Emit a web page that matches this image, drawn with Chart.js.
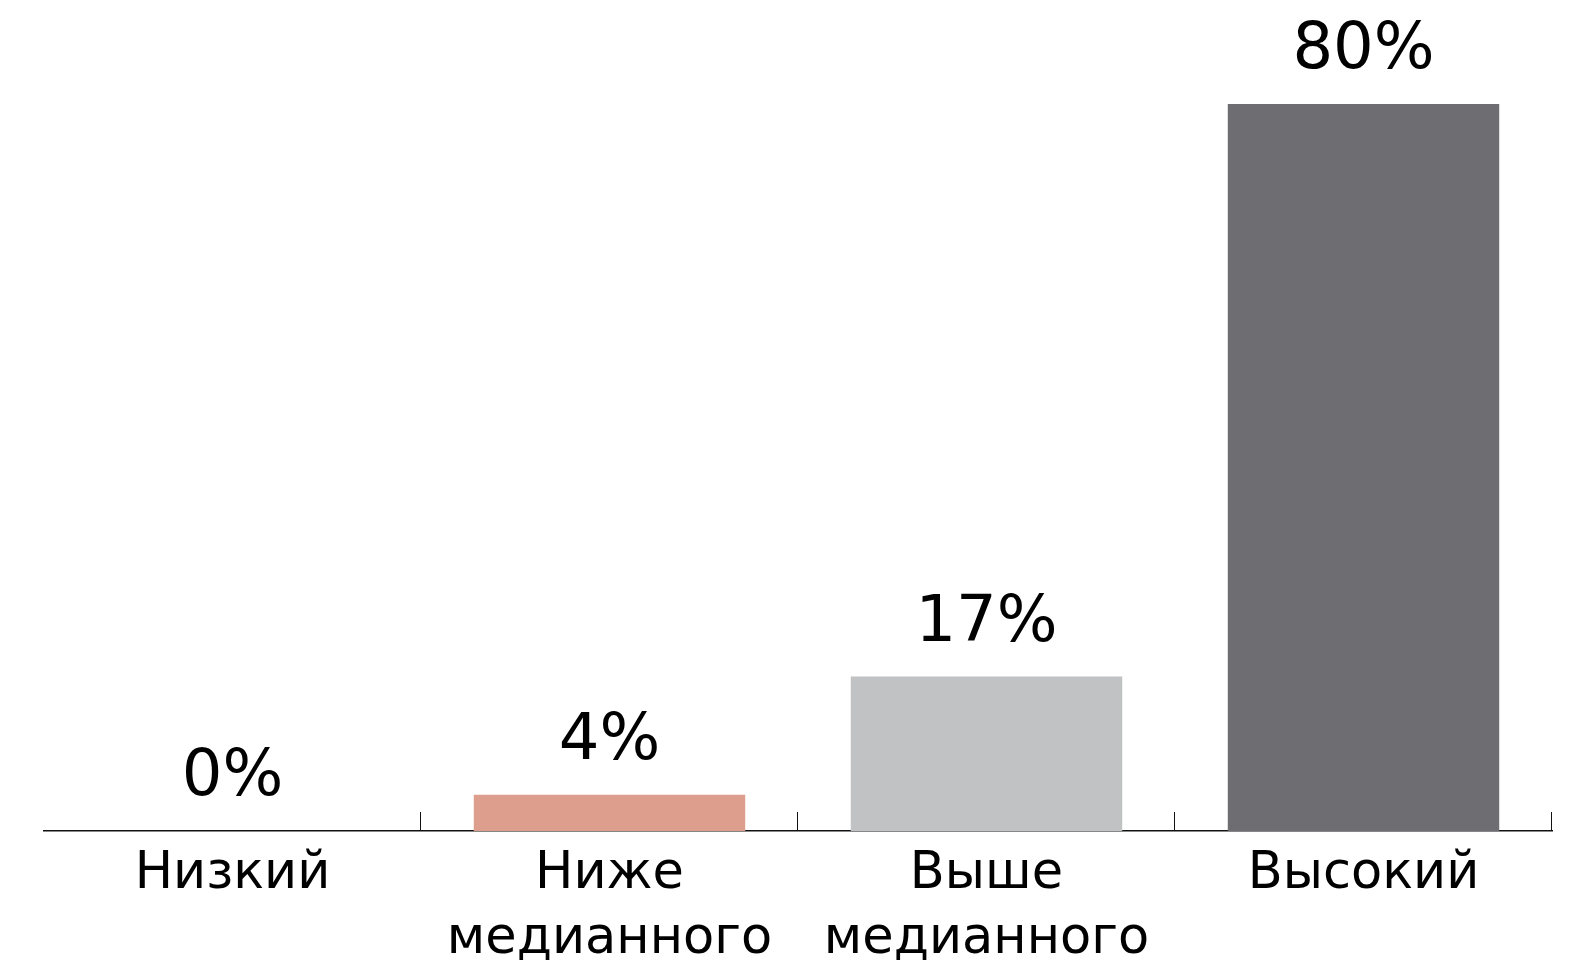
<!DOCTYPE html>
<html>
<head>
<meta charset="utf-8">
<script src="https://cdn.jsdelivr.net/npm/chart.js@4/dist/chart.umd.min.js"></script>
<style>
  html, body { margin: 0; padding: 0; background: #fff; }
  #wrap { width: 1573px; height: 960px; }
</style>
</head>
<body>
<div id="wrap"><canvas id="chart"></canvas></div>
<script>
// Chart data
const categories = [["Низкий"], ["Ниже", "медианного"], ["Выше", "медианного"], ["Высокий"]];
const shares = [0, 4, 17, 80];
const barColors = ["#dd9e8e", "#dd9e8e", "#c1c2c4", "#6e6e72"];

const FONT = "'DejaVu Sans', sans-serif";

// value labels above the bars
const valueLabels = {
    id: "valueLabels",
    afterDatasetsDraw(chart) {
        const ctx = chart.ctx;
        const meta = chart.getDatasetMeta(0);
        ctx.save();
        ctx.font = "64px " + FONT;
        ctx.fillStyle = "#000";
        ctx.textAlign = "center";
        ctx.textBaseline = "alphabetic";
        meta.data.forEach((bar, i) => {
            ctx.fillText(shares[i] + "%", bar.x, bar.y - 36);
        });
        ctx.restore();
    }
};

// small upward ticks at the category boundaries
const boundaryTicks = {
    id: "boundaryTicks",
    afterDraw(chart) {
        const ctx = chart.ctx;
        const x = chart.scales.x;
        const bottom = chart.chartArea.bottom;
        ctx.save();
        ctx.strokeStyle = "#111";
        ctx.lineWidth = 1;
        for (let i = 1; i <= categories.length; i++) {
            let px;
            if (i < categories.length) {
                px = (x.getPixelForValue(i - 1) + x.getPixelForValue(i)) / 2;
            } else {
                px = x.right;
            }
            px = Math.round(px) - 0.5;
            ctx.beginPath();
            ctx.moveTo(px, bottom);
            ctx.lineTo(px, bottom - 19);
            ctx.stroke();
        }
        ctx.restore();
    }
};

new Chart(document.getElementById("chart"), {
    type: "bar",
    data: {
        labels: categories,
        datasets: [{
            data: shares,
            backgroundColor: barColors,
            borderWidth: 0,
            categoryPercentage: 1,
            barPercentage: 0.72
        }]
    },
    options: {
        responsive: true,
        maintainAspectRatio: false,
        animation: false,
        layout: {
            padding: { top: 104, left: 44, right: 21, bottom: 0 }
        },
        plugins: {
            legend: { display: false },
            tooltip: { enabled: false }
        },
        scales: {
            x: {
                grid: { display: false },
                border: { display: true, color: "#111", width: 1.5 },
                ticks: {
                    color: "#000",
                    padding: 3,
                    maxRotation: 0,
                    autoSkip: false,
                    font: { family: FONT, size: 51, lineHeight: 1.28 }
                },
                afterFit(scale) {
                    scale.height = 129;
                }
            },
            y: {
                display: false,
                min: 0,
                max: 80
            }
        }
    },
    plugins: [valueLabels, boundaryTicks]
});
</script>
</body>
</html>
